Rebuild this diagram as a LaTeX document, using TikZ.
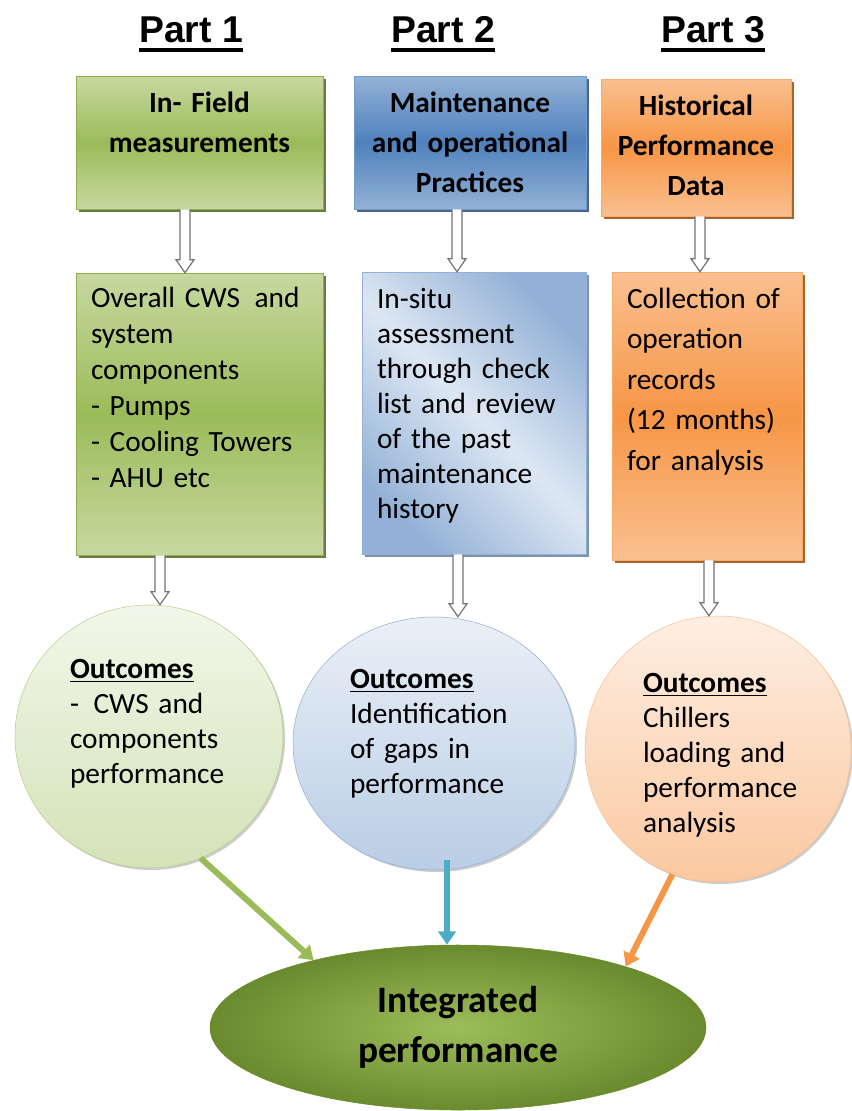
\documentclass[tikz,border=0pt]{standalone}
\usepackage{fontspec}
\setmainfont{Carlito}
\newfontfamily\partfont{Liberation Sans}
\usetikzlibrary{arrows.meta,shapes.geometric,shadows,calc}
\definecolor{grlight}{HTML}{C6D9A0}
\definecolor{grmid}{HTML}{9BBB59}
\definecolor{grline}{HTML}{8CAE4C}
\definecolor{grpale}{HTML}{D4E3B8}
\definecolor{grshade}{HTML}{4F6228}
\definecolor{bllight}{HTML}{93B1D6}
\definecolor{blmid}{HTML}{4F81BD}
\definecolor{blpale}{HTML}{DDE7F3}
\definecolor{blcirc}{HTML}{B9CDE5}
\definecolor{blshade}{HTML}{2C4A70}
\definecolor{orlight}{HTML}{FAC090}
\definecolor{ormid}{HTML}{F79646}
\definecolor{orcirc}{HTML}{FBC8A0}
\definecolor{orshade}{HTML}{984807}
\definecolor{feedblue}{HTML}{4BACC6}
\definecolor{ipdark}{HTML}{6A8A2E}
\definecolor{iplight}{HTML}{9DBD5B}
% underline bar: gap below baseline, thickness, text
\newcommand\ulbar[3]{\setbox0=\hbox{#3}%
  \rlap{\vrule width\wd0 height\dimexpr-#1\relax depth\dimexpr#1+#2\relax}\box0}
\newcommand\partline[1]{\ulbar{4.5pt}{3pt}{#1}}
\newcommand\outhead[1]{\ulbar{2.2pt}{1.1pt}{\textbf{#1}}}
% hollow block arrow: from node, to node, x offset
\newcommand\hollowarrow[3]{%
  \coordinate (ha) at ($(#1.south)+(#3,0)$);
  \coordinate (hb) at (ha |- #2.north);
  \draw[hollow] ($(ha)+(-5,0)$) -- ($(hb)+(-5,-13)$) -- ($(hb)+(-9,-13)$) -- (hb)
    -- ($(hb)+(9,-13)$) -- ($(hb)+(5,-13)$) -- ($(ha)+(5,0)$);
}
\tikzset{
  part/.style={font=\partfont\bfseries\fontsize{28}{30}\selectfont},
  head/.style={rectangle,align=center,inner xsep=4pt,inner ysep=0pt,text height=27pt,
               font=\fontsize{22}{30}\selectfont\bfseries},
  body/.style={rectangle,align=left,inner xsep=11.25pt,inner ysep=0pt,
               font=\fontsize{22}{27}\selectfont},
  outc/.style={ellipse,align=left,inner sep=0pt,text height=22.5pt,
               font=\fontsize{22}{26.25}\selectfont},
  grbox/.style={draw=grline,top color=grlight,bottom color=grlight,middle color=grmid,
                drop shadow={shadow xshift=2.5pt,shadow yshift=-2.5pt,fill=grshade,opacity=.85}},
  blbox/.style={draw=blmid!80,top color=bllight,bottom color=bllight,middle color=blmid,
                drop shadow={shadow xshift=2.5pt,shadow yshift=-2.5pt,fill=blshade,opacity=.85}},
  blpal/.style={draw=bllight,top color=bllight,bottom color=bllight,middle color=blpale,
                shading angle=-45,
                drop shadow={shadow xshift=2.5pt,shadow yshift=-2.5pt,fill=blshade,opacity=.6}},
  orbox/.style={draw=ormid!80,top color=orlight,bottom color=orlight,middle color=ormid,
                drop shadow={shadow xshift=2.5pt,shadow yshift=-2.5pt,fill=orshade,opacity=.85}},
  grcir/.style={draw=grmid!70,top color=white!70!grpale,bottom color=grpale,
                drop shadow={shadow xshift=1.5pt,shadow yshift=-1.5pt,fill=black,opacity=.2}},
  blcir/.style={draw=bllight,top color=white!70!blcirc,bottom color=blcirc,
                drop shadow={shadow xshift=1.5pt,shadow yshift=-1.5pt,fill=black,opacity=.2}},
  orcir/.style={draw=orlight,top color=white!70!orcirc,bottom color=orcirc,
                drop shadow={shadow xshift=1.5pt,shadow yshift=-1.5pt,fill=black,opacity=.2}},
  hollow/.style={draw=black!55,fill=white,line width=0.9pt,line join=miter},
  feed/.style={line width=4.5pt,-{Triangle[length=10pt,width=13pt]}},
}
\begin{document}
\begin{tikzpicture}[x=0.75pt,y=-0.75pt]
\useasboundingbox (0,0) rectangle (852,1111);
% column titles
\node[part,anchor=base] (p1) at (191,42) {\partline{Part 1}};
\node[part,anchor=base] (p2) at (443,42) {\partline{Part 2}};
\node[part,anchor=base] (p3) at (713,42) {\partline{Part 3}};
% top row
\node[head,grbox,text width=177.25pt,text depth=72.75pt] (h1) at (199.5,142.5)
  {In- Field\\measurements};
\node[head,blbox,text width=166pt,text depth=72.75pt] (h2) at (470,142.5)
  {Maintenance\\and operational\\Practices};
\node[head,orbox,text width=134.5pt,text depth=75.75pt] (h3) at (696,147.5)
  {Historical\\Performance\\Data};
% middle row
\node[body,grbox,text width=162.75pt,text height=25.5pt,text depth=186pt] (b1) at (199.5,414)
  {Overall CWS \,and\\system\\components\\- Pumps\\- Cooling Towers\\- AHU etc};
\node[body,blpal,text width=145.5pt,text height=27pt,text depth=184.5pt,
      font=\fontsize{22}{26.3}\selectfont] (b2) at (474,413)
  {In-situ\\assessment\\through check\\list and review\\of the past\\maintenance\\history};
\node[body,orbox,text width=120pt,text height=27pt,text depth=189pt,
      font=\fontsize{22}{30.4}\selectfont] (b3) at (707,416)
  {Collection of\\operation\\records\\(12 months)\\for analysis};
% outcomes
\node[outc,grcir,text width=118.5pt,text depth=110.25pt,minimum width=201pt,
      minimum height=197.25pt] (g3) at (149,736.5)
  {\outhead{Outcomes}\\- \,CWS and\\components\\performance};
\node[outc,blcir,text width=126pt,text depth=105.75pt,minimum width=211.5pt,
      minimum height=189.75pt] (c3) at (434,743.5)
  {\outhead{Outcomes}\\Identification\\of gaps in\\performance};
\node[outc,orcir,text width=112.5pt,text depth=108pt,minimum width=199.5pt,
      minimum height=199.5pt] (o3) at (718,749)
  {\outhead{Outcomes}\\Chillers\\loading and\\performance\\analysis};
% result
\node[ellipse,draw=ipdark,inner color=iplight,outer color=ipdark,align=center,
      inner sep=0pt,minimum width=372pt,minimum height=123.75pt,
      font=\fontsize{28}{37.5}\selectfont\bfseries] (ip) at (458,1027.5)
  {Integrated\\performance};
% block arrows
\hollowarrow{h1}{b1}{-14.5}
\hollowarrow{h2}{b2}{-13}
\hollowarrow{h3}{b3}{4}
\hollowarrow{b1}{g3}{-39.5}
\hollowarrow{b2}{c3}{-16}
\hollowarrow{b3}{o3}{2}
% into the result
\draw[feed,grmid] (g3.-67) -- (ip.155.7);
\coordinate (tl) at ($(c3.south)+(13,-10)$);
\draw[feed,feedblue] (tl) -- (tl |- ip.north);
\draw[feed,ormid] (o3.-110) -- (ip.20);
\end{tikzpicture}
\end{document}
